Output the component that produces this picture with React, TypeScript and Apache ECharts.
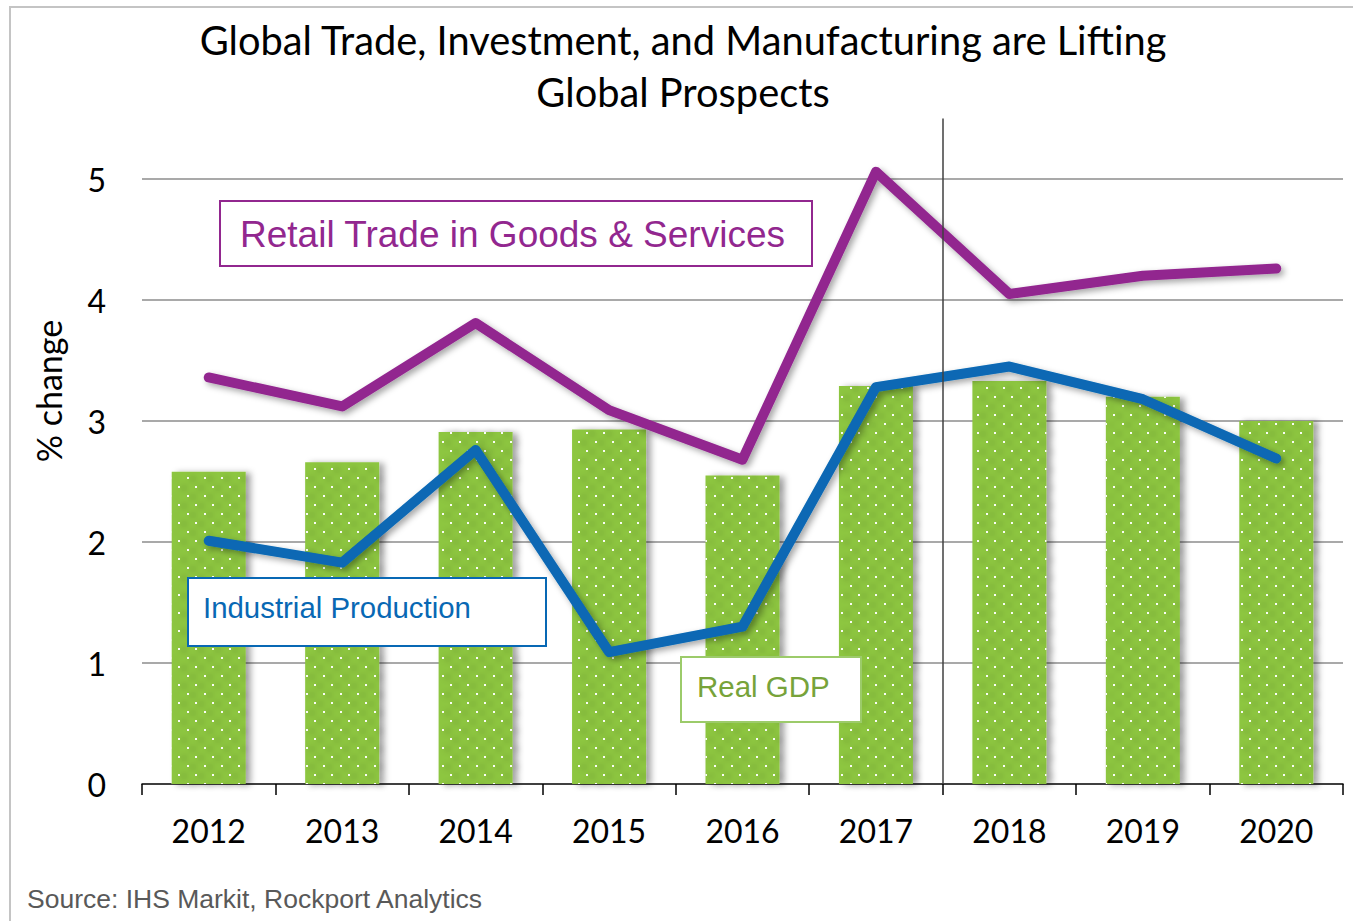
import React, { useEffect, useRef } from "react";
import * as echarts from "echarts";

const years = ["2012", "2013", "2014", "2015", "2016", "2017", "2018", "2019", "2020"];
const realGdp = [2.58, 2.66, 2.91, 2.93, 2.55, 3.29, 3.33, 3.2, 3.0];
const retailTrade = [3.36, 3.12, 3.81, 3.09, 2.68, 5.06, 4.05, 4.2, 4.26];
const industrialProduction = [2.01, 1.83, 2.76, 1.09, 1.3, 3.28, 3.45, 3.18, 2.69];
const forecastStart = 2017.5;

const titleLines = ["Global Trade, Investment, and Manufacturing are Lifting", "Global Prospects"];

export default function App() {
  const ref = useRef<HTMLDivElement>(null);
  useEffect(() => {
    if (!ref.current) return;
    const chart = echarts.init(ref.current, null, { renderer: "svg" });
    const shadow = { shadowColor: "rgba(0,0,0,0.35)", shadowBlur: 6, shadowOffsetX: 3, shadowOffsetY: 3 };
    const Z = 100;
    chart.setOption({
      animation: false,
      backgroundColor: "#ffffff",
      grid: { left: 142, right: 10, top: 118.5, bottom: 137, containLabel: false },
      xAxis: [
        {
          type: "category",
          data: years,
          boundaryGap: true,
          axisLine: { lineStyle: { color: "#000", width: 1.5 } },
          axisTick: { show: true, length: 11, lineStyle: { color: "#000", width: 1.5 } },
          axisLabel: { color: "#000", fontFamily: "Lato", fontSize: 32, margin: 30 },
        },
        { type: "value", min: 2011.5, max: 2020.5, show: false },
      ],
      yAxis: {
        type: "value",
        min: 0,
        max: 5.5,
        interval: 1,
        axisLine: { show: false },
        axisTick: { show: false },
        axisLabel: {
          color: "#000",
          fontFamily: "Lato",
          fontSize: 32,
          margin: 36,
          formatter: (v: number) => (v > 5 ? "" : String(v)),
        },
        splitLine: {
          show: true,
          lineStyle: {
            color: ["transparent", "#8c8c8c", "#8c8c8c", "#8c8c8c", "#8c8c8c", "#8c8c8c", "transparent"],
            width: 1.5,
          },
        },
      },
      series: [
        {
          name: "Real GDP",
          type: "bar",
          data: realGdp,
          barWidth: 74,
          z: 2,
          itemStyle: {
            color: "#8DC63F",
            ...shadow,
            shadowOffsetY: 1,
            shadowOffsetX: 5,
            decal: {
              symbol: "rect",
              symbolSize: 1,
              color: "rgba(255,255,255,0.95)",
              dashArrayX: [
                [1.6, 14.4],
                [0, 8, 1.6, 6.4],
              ],
              dashArrayY: [1.6, 6.4],
            },
          },
        },
        {
          name: "Retail Trade in Goods & Services",
          type: "line",
          data: retailTrade,
          symbol: "none",
          z: 4,
          lineStyle: { color: "#92278F", width: 10, cap: "round", join: "round", ...shadow },
        },
        {
          name: "Industrial Production",
          type: "line",
          data: industrialProduction,
          symbol: "none",
          z: 4,
          lineStyle: { color: "#0868B4", width: 10, cap: "round", join: "round", ...shadow },
        },
        {
          name: "forecast divider",
          type: "scatter",
          xAxisIndex: 1,
          data: [[forecastStart, 0]],
          symbolSize: 0,
          silent: true,
          z: 3,
          markLine: {
            silent: true,
            symbol: "none",
            label: { show: false },
            lineStyle: { color: "#404040", width: 1.5, type: "solid" },
            data: [{ xAxis: forecastStart }],
          },
        },
      ],
      graphic: [
        {
          type: "rect",
          shape: { x: 10, y: 7, width: 1400, height: 1000 },
          style: { fill: "none", stroke: "#c4c4c4", lineWidth: 2 },
          silent: true,
          z: 0,
        },
        {
          type: "text",
          x: 683,
          y: 13,
          z: Z,
          style: {
            text: titleLines.join("\n"),
            fontFamily: "Lato",
            fontSize: 39.8,
            lineHeight: 52,
            fill: "#000",
            align: "center",
          },
        },
        {
          type: "text",
          x: 48,
          y: 391,
          rotation: Math.PI / 2,
          z: Z,
          style: {
            text: "% change",
            fontFamily: "Lato",
            fontSize: 34,
            fill: "#000",
            align: "center",
            verticalAlign: "middle",
          },
        },
        {
          type: "rect",
          z: Z,
          shape: { x: 220, y: 201, width: 592, height: 65 },
          style: { fill: "#fff", stroke: "#92278F", lineWidth: 2 },
        },
        {
          type: "text",
          z: Z + 1,
          x: 240,
          y: 234,
          style: {
            text: "Retail Trade in Goods & Services",
            fontFamily: "Liberation Sans",
            fontSize: 37,
            fill: "#92278F",
            verticalAlign: "middle",
          },
        },
        {
          type: "rect",
          z: Z,
          shape: { x: 188, y: 578, width: 358, height: 68 },
          style: { fill: "#fff", stroke: "#0868B4", lineWidth: 2 },
        },
        {
          type: "text",
          z: Z + 1,
          x: 203,
          y: 607,
          style: {
            text: "Industrial Production",
            fontFamily: "Liberation Sans",
            fontSize: 29.4,
            fill: "#0868B4",
            verticalAlign: "middle",
          },
        },
        {
          type: "rect",
          z: Z,
          shape: { x: 681, y: 657, width: 180, height: 65 },
          style: { fill: "#fff", stroke: "#9CCB6A", lineWidth: 2 },
        },
        {
          type: "text",
          z: Z + 1,
          x: 697,
          y: 686,
          style: {
            text: "Real GDP",
            fontFamily: "Liberation Sans",
            fontSize: 29.5,
            fill: "#77A33A",
            verticalAlign: "middle",
          },
        },
        {
          type: "text",
          x: 27,
          y: 899,
          z: Z,
          style: {
            text: "Source: IHS Markit, Rockport Analytics",
            fontFamily: "Liberation Sans",
            fontSize: 26.5,
            fill: "#595959",
            verticalAlign: "middle",
          },
        },
      ],
    });
    return () => chart.dispose();
  }, []);
  return <div ref={ref} style={{ position: "fixed", left: 0, top: 0, width: 1353, height: 921 }} />;
}
